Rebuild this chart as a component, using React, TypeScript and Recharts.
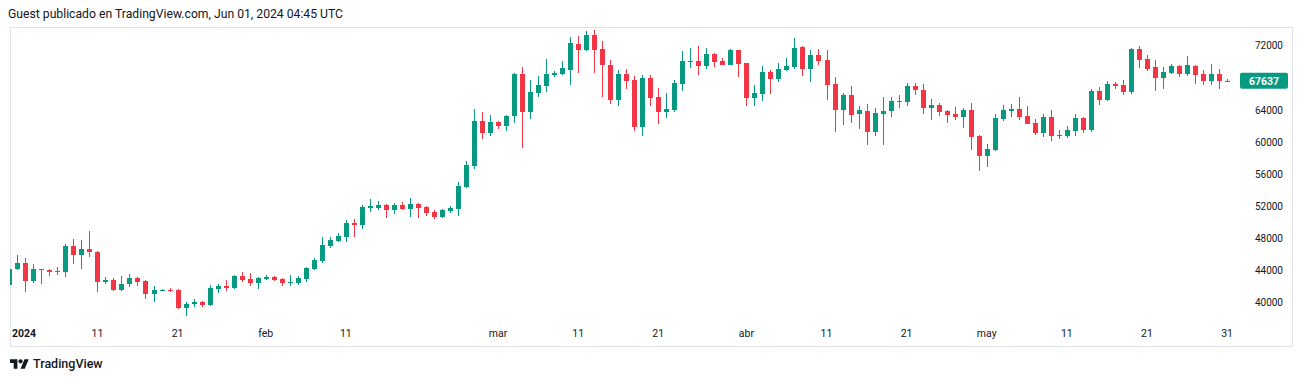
import React from "react";
import { ComposedChart, Bar, XAxis, YAxis } from "recharts";

// daily candles, first one is cut by the left edge; last one is the running day
// [open, high, low, close]
const janCandles: number[][] = [
  [42150, 44250, 42100, 44170], [44170, 45950, 44070, 44950], [44950, 45550, 41350, 42700],
  [42700, 44850, 42480, 44180], [44180, 44250, 42360, 44120], [44120, 44200, 43350, 43880],
  [43940, 44440, 43480, 43870], [43870, 47300, 43160, 47100], [47100, 47930, 44860, 45980],
  [45980, 47810, 44230, 46690], [46690, 48950, 45700, 46250], [46300, 46450, 41370, 42600],
  [42600, 43190, 42360, 42800], [42810, 43060, 41500, 41600], [41600, 43320, 41500, 42310],
  [42360, 43570, 41990, 43060], [43060, 43200, 42070, 42560], [42690, 42800, 40460, 41060],
  [41060, 42070, 40120, 41590], [41500, 41700, 41400, 41630], [41630, 41830, 41330, 41560],
  [41590, 41650, 39250, 39380], [39380, 40120, 38380, 39840], [39800, 40500, 39420, 40090],
  [40090, 40210, 39460, 39750], [39750, 42240, 39650, 41830], [41700, 42320, 41250, 42070],
  [42070, 42810, 41490, 41860], [41820, 43400, 41700, 43320], [43320, 43820, 42600, 42810],
  [42930, 43690, 42070, 42430],
];
const febCandles: number[][] = [
  [42430, 43150, 41700, 43060], [42930, 43440, 42800, 43190], [43190, 43320, 42700, 42810],
  [42930, 43060, 42070, 42430], [42490, 43440, 42070, 42560], [42430, 43320, 42200, 43060],
  [42930, 44400, 42560, 44310], [44190, 45550, 44100, 45300], [45180, 48180, 44930, 47190],
  [47060, 48180, 46850, 47810], [47690, 48680, 47560, 48310], [48180, 50300, 47560, 49930],
  [49930, 50430, 48180, 49680], [49680, 52170, 49180, 51920], [51800, 52910, 51300, 52040],
  [51800, 52660, 51550, 52170], [52170, 52290, 50550, 51550], [51550, 52420, 51050, 52170],
  [52170, 52540, 51550, 51670], [51670, 53030, 50680, 52290], [52290, 52420, 50550, 51800],
  [51920, 52040, 50800, 51180], [51300, 51550, 50430, 50680], [50680, 51670, 50550, 51550],
  [51470, 52040, 51220, 51800], [51720, 55030, 50830, 54540], [54440, 57640, 54300, 57140],
  [57060, 64120, 56690, 62620], [62620, 63740, 60420, 61170],
];
const marCandles: number[][] = [
  [61170, 63370, 60800, 62500], [62500, 62620, 61670, 62040], [62040, 63370, 61420, 63250],
  [63200, 68600, 62410, 68480], [68480, 69350, 59300, 63780], [63780, 67730, 62910, 66240],
  [66150, 68230, 65650, 67110], [67020, 70340, 66270, 68480], [68350, 68850, 68150, 68600],
  [68480, 70100, 68300, 69220], [68980, 73080, 67110, 72340], [72210, 73210, 68600, 71470],
  [71470, 73830, 71340, 73330], [73330, 73950, 68600, 71470], [71590, 72590, 65610, 69600],
  [69600, 70220, 64740, 65230], [65230, 68980, 64490, 68480], [68480, 69100, 66610, 67600],
  [67730, 68230, 61380, 61880], [61880, 68350, 60760, 67980], [67980, 68350, 64490, 65490],
  [65610, 66730, 62250, 63740], [63780, 66150, 63030, 64120], [63990, 67730, 63740, 67350],
  [67270, 71340, 66360, 70100], [69970, 71710, 69260, 70100], [70100, 71960, 68390, 69510],
  [69510, 71710, 69050, 70970], [70970, 71090, 69350, 69970], [70100, 70470, 69600, 69640],
  [69640, 71590, 69600, 71470],
];
const aprCandles: number[][] = [
  [71470, 71520, 68140, 69760], [69850, 69900, 64490, 65530], [65530, 67110, 64490, 66110],
  [66030, 69470, 65150, 68730], [68730, 68980, 66030, 67850], [67850, 69850, 67480, 69100],
  [68980, 70470, 68850, 69470], [69350, 72960, 69100, 71710], [71840, 71960, 68230, 69100],
  [69100, 71460, 67480, 70840], [70840, 71590, 69600, 70100], [70220, 71460, 65240, 67110],
  [67230, 68110, 61250, 63990], [63990, 66110, 62120, 65860], [65860, 66980, 62370, 63370],
  [63490, 64490, 61630, 63990], [63870, 64740, 59640, 61250], [61250, 64240, 60760, 63620],
  [63540, 65610, 59640, 63870], [63910, 65610, 63160, 65120], [65120, 65860, 64280, 65030],
  [65030, 67350, 64530, 66980], [66980, 67350, 65910, 66520], [66480, 67230, 63540, 64280],
  [64280, 65360, 62750, 64620], [64620, 64870, 63250, 63700], [63910, 64030, 62410, 63410],
  [63540, 64370, 62790, 63160], [63160, 64240, 61790, 63990], [63990, 64870, 59040, 60670],
];
const mayCandles: number[][] = [
  [60760, 60870, 56440, 58300], [58300, 59760, 56940, 59130], [59040, 63500, 58900, 62990],
  [62910, 64620, 62660, 63990], [63910, 64740, 63160, 64120], [64120, 65610, 62750, 63160],
  [63250, 64490, 62290, 62290], [62370, 62870, 60920, 61160], [61160, 63500, 60670, 63120],
  [63120, 63990, 60170, 60800], [60800, 61500, 60420, 60840], [60800, 62000, 60550, 61500],
  [61380, 63500, 60800, 62990], [62990, 63120, 61170, 61500], [61500, 66600, 61250, 66360],
  [66360, 66860, 64620, 65240], [65240, 67600, 65120, 67230], [67230, 67480, 66610, 66980],
  [67110, 67730, 65860, 66240], [66240, 71710, 65980, 71590], [71590, 71960, 69230, 70220],
  [70340, 70840, 68850, 69100], [69350, 70220, 66360, 67980], [67980, 69350, 66610, 68730],
  [68600, 69720, 68480, 69470], [69470, 69600, 68110, 68480], [68480, 70720, 68230, 69600],
  [69470, 69600, 67230, 68350], [68480, 68980, 67110, 67600], [67600, 69720, 67110, 68480],
  [68480, 69100, 66610, 67600],
];
const lastCandle: number[][] = [[67560, 67850, 67480, 67637]];

const lastPrice = 67637;

// time axis: bar index -> label
const tickDays = [1, 11, 21, 32, 42, 61, 71, 81, 92, 102, 112, 122, 132, 142, 152];
const tickLabels = ["2024", "11", "21", "feb", "11", "mar", "11", "21", "abr", "11", "21", "may", "11", "21", "31"];

const priceTicks = [40000, 44000, 48000, 52000, 56000, 60000, 64000, 72000];

const UP = "#089981";
const DOWN = "#F23645";
const TEXT = "#131722";
const FONT = "Roboto, sans-serif";

const candles = [...janCandles, ...febCandles, ...marCandles, ...aprCandles, ...mayCandles, ...lastCandle];
const data = candles.map(([o, h, l, c], i) => ({ i, o, h, l, c, range: [l, h] }));

function Candle(props: any) {
  const { x, y, width, height, payload } = props;
  if (x == null || y == null || !payload) return null;
  const { o, h, l, c } = payload;
  const top = Math.min(y, y + height);
  const span = Math.abs(height);
  const k = h === l ? 0 : span / (h - l);
  const cx = x + width / 2;
  const bodyTop = top + (h - Math.max(o, c)) * k;
  const bodyBot = top + (h - Math.min(o, c)) * k;
  const color = c >= o ? UP : DOWN;
  const bw = 5;
  return (
    <g shapeRendering="crispEdges">
      <rect x={cx - 0.5} y={top} width={1} height={Math.max(1, span)} fill={color} />
      <rect x={cx - bw / 2} y={bodyTop} width={bw} height={Math.max(1, bodyBot - bodyTop)} fill={color} />
    </g>
  );
}

const TimeTick = (p: any) => {
  const idx = tickDays.indexOf(p.payload.value);
  const label = idx >= 0 ? tickLabels[idx] : "";
  const isYear = label === "2024";
  // the year label gets pushed inside the pane like TradingView does
  const x = isYear ? Math.max(p.x, 24) : p.x;
  return (
    <text x={x} y={p.y} dy={16.5} textAnchor="middle" fontSize={10.5} fontFamily={FONT} fill={TEXT} fontWeight={isYear ? 700 : 400}>
      {label}
    </text>
  );
};

const PriceTick = (p: any) => {
  const v = p.payload.value;
  if (v === lastPrice) {
    return (
      <g>
        <rect x={p.x + 4} y={p.y - 8} width={48} height={16} rx={2} fill={UP} />
        <text x={p.x + 28} y={p.y} dy="0.36em" textAnchor="middle" fontSize={10.5} fontWeight={700} fontFamily={FONT} fill="#ffffff">
          {v}
        </text>
      </g>
    );
  }
  return (
    <text x={p.x + 47} y={p.y} dy="0.36em" textAnchor="end" fontSize={10} fontFamily={FONT} fill={TEXT}>
      {v}
    </text>
  );
};

function Logo() {
  return (
    <svg width="19" height="15" viewBox="0 0 36 28" style={{ position: "absolute", left: 10, top: 357 }}>
      <path d="M14 22H7V11H0V4h14v18zM28 22h-8l7.5-18h8L28 22z" fill={TEXT} />
      <circle cx="20" cy="8" r="4" fill={TEXT} />
    </svg>
  );
}

export default function App() {
  return (
    <div style={{ position: "absolute", left: 0, top: 0, width: 1304, height: 382, background: "#fff", fontFamily: FONT }}>
      <div style={{ position: "absolute", left: 8, top: 7, fontSize: 12.2, lineHeight: "14px", color: TEXT, whiteSpace: "nowrap" }}>
        Guest publicado en TradingView.com, Jun 01, 2024 04:45 UTC
      </div>
      <div style={{ position: "absolute", left: 10, top: 27, width: 1283, height: 320, border: "1px solid #e0e3eb", boxSizing: "border-box" }} />
      <div style={{ position: "absolute", left: 0, top: 0 }}>
        <ComposedChart width={1304} height={382} data={data} margin={{ top: 27, left: 10, right: 11, bottom: 35 }}>
          <XAxis
            dataKey="i"
            type="number"
            domain={[0.087, 153.11]}
            allowDataOverflow
            ticks={tickDays}
            interval={0}
            axisLine={false}
            tickLine={false}
            tickSize={0}
            tickMargin={0}
            height={27}
            tick={<TimeTick />}
          />
          <YAxis
            orientation="right"
            type="number"
            domain={[37845, 74328]}
            allowDataOverflow
            ticks={[...priceTicks, lastPrice]}
            interval={0}
            axisLine={false}
            tickLine={false}
            tickSize={0}
            tickMargin={0}
            width={57}
            tick={<PriceTick />}
          />
          <Bar dataKey="range" barSize={5} shape={(p: any) => <Candle {...p} />} isAnimationActive={false} />
        </ComposedChart>
      </div>
      <Logo />
      <div style={{ position: "absolute", left: 33, top: 357, fontSize: 12.5, lineHeight: "14px", fontWeight: 500, color: TEXT }}>
        TradingView
      </div>
    </div>
  );
}
